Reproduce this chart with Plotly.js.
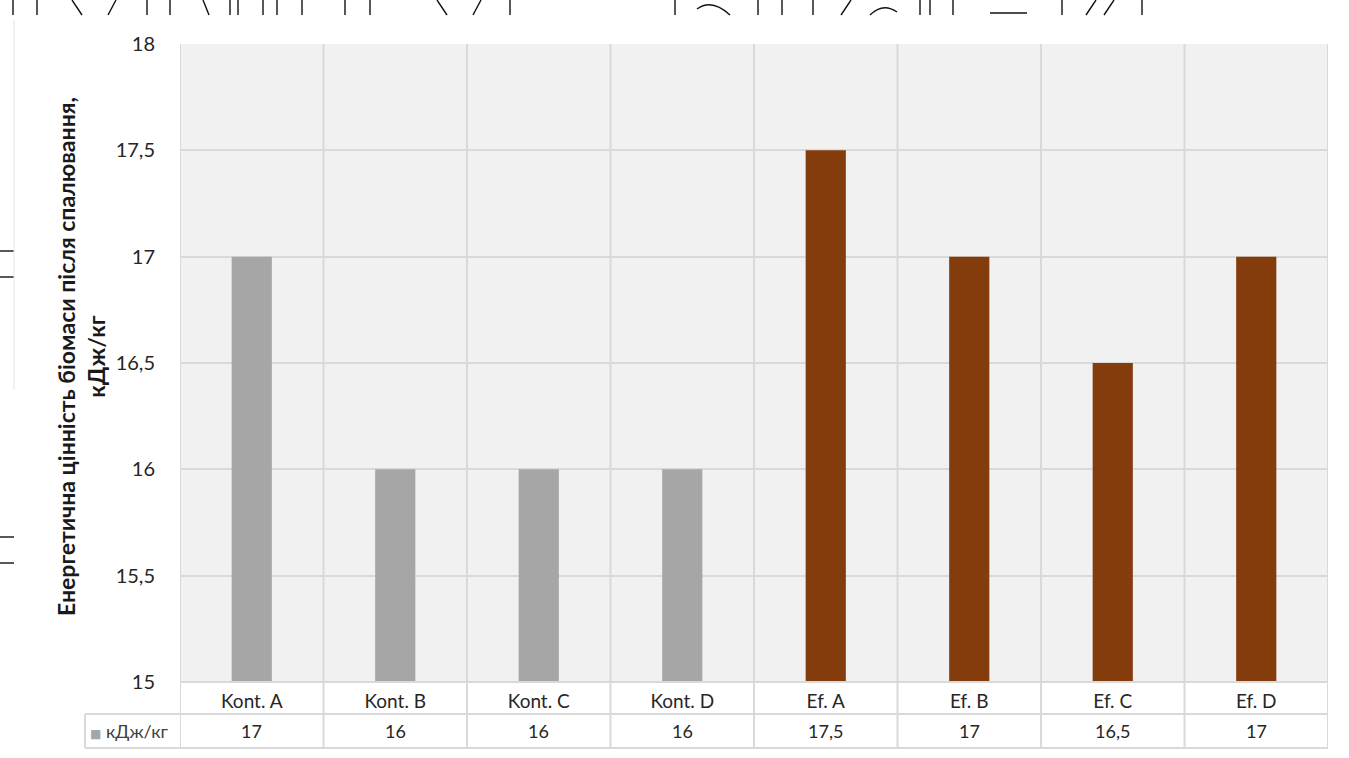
<!DOCTYPE html>
<html>
<head>
<meta charset="utf-8">
<script src="https://cdn.plot.ly/plotly-3.0.1.min.js"></script>
<style>
  html, body { margin: 0; padding: 0; background: #ffffff; }
  #chart { width: 1349px; height: 758px; }
</style>
</head>
<body>
<div id="chart"></div>
<script>
// Energy value of biomass after combustion, per variant
const categories = ['Kont. A', 'Kont. B', 'Kont. C', 'Kont. D', 'Ef. A', 'Ef. B', 'Ef. C', 'Ef. D'];
const energyValues = [17, 16, 16, 16, 17.5, 17, 16.5, 17];
const seriesName = 'кДж/кг';
const yTickValues = [15, 15.5, 16, 16.5, 17, 17.5, 18];
const yTickLabels = ['15', '15,5', '16', '16,5', '17', '17,5', '18'];
const yTitle = 'Енергетична цінність біомаси після спалювання,<br>кДж/кг';

const W = 1349, H = 758;
const M = { l: 180, r: 21, t: 44, b: 76 };
const plotW = W - M.l - M.r;
const plotH = H - M.t - M.b;

// pixel -> paper helpers for decorations placed outside the plot area
const px = v => (v - M.l) / plotW;
const py = v => (H - M.b - v) / plotH;

const GRAY = '#a6a6a6';
const BROWN = '#843c0c';
const GRID = '#d9d9d9';
const FONT = 'Lato, "Noto Sans", "DejaVu Sans", sans-serif';
const TEXT = '#262626';

const barColors = categories.map(c => c.startsWith('Ef.') ? BROWN : GRAY);
const fmt = v => String(v).replace('.', ',');

const trace = {
  type: 'bar',
  x: categories,
  y: energyValues,
  name: seriesName,
  width: 0.28,
  marker: { color: barColors, line: { width: 0 } },
  hoverinfo: 'x+y'
};

const shapes = [];
const rowMid = 714;
const rowBot = 748;
const legendLeft = 85;

// category separators through plot and data table
for (let i = 0; i <= categories.length; i++) {
  shapes.push({
    type: 'line', xref: 'x', yref: 'paper',
    x0: i - 0.5, x1: i - 0.5, y0: py(rowBot), y1: 1,
    line: { color: GRID, width: 2 }, layer: 'below'
  });
}
// table horizontal rules
shapes.push({ type: 'line', xref: 'paper', yref: 'paper', x0: 0, x1: 1, y0: 0, y1: 0,
  line: { color: GRID, width: 2 } });
shapes.push({ type: 'line', xref: 'paper', yref: 'paper', x0: px(legendLeft), x1: 1, y0: py(rowMid), y1: py(rowMid),
  line: { color: GRID, width: 2 } });
shapes.push({ type: 'line', xref: 'paper', yref: 'paper', x0: px(legendLeft), x1: 1, y0: py(rowBot), y1: py(rowBot),
  line: { color: GRID, width: 2 } });
shapes.push({ type: 'line', xref: 'paper', yref: 'paper', x0: px(legendLeft), x1: px(legendLeft), y0: py(rowMid), y1: py(rowBot),
  line: { color: GRID, width: 2 } });

// remnants of large lettering cropped at the page top and left edge
const strokes = [
  [13, 0, 13, 15], [37, 0, 37, 15], [72, 0, 82, 15], [116, 0, 108, 15],
  [147, 0, 147, 15], [170, 0, 170, 15], [203, 0, 209, 15], [230, 0, 230, 15],
  [238, 0, 238, 15], [263, 0, 263, 15], [277, 0, 277, 15], [302, 0, 302, 15],
  [345, 0, 345, 15], [370, 0, 370, 15], [437, 0, 447, 15], [481, 0, 473, 15],
  [510, 0, 510, 15], [675, 0, 675, 15], [758, 0, 758, 15], [782, 0, 782, 15],
  [813, 0, 813, 15], [851, 0, 841, 15], [920, 0, 920, 15], [930, 0, 930, 15],
  [953, 0, 953, 15], [990, 13, 1027, 13], [1062, 0, 1062, 15], [1096, 0, 1086, 15],
  [1114, 0, 1104, 15], [1142, 0, 1142, 15],
  [0, 251, 14, 251], [0, 277, 14, 277], [0, 537, 14, 537], [0, 563, 14, 563]
];
strokes.forEach(s => shapes.push({
  type: 'line', xref: 'paper', yref: 'paper',
  x0: px(s[0]), y0: py(s[1]), x1: px(s[2]), y1: py(s[3]),
  line: { color: '#111111', width: 1.4 }
}));
shapes.push({ type: 'path', xref: 'paper', yref: 'paper',
  path: `M ${px(697)} ${py(9)} Q ${px(712)} ${py(-2)} ${px(730)} ${py(15)}`,
  line: { color: '#111111', width: 1.4 } });
shapes.push({ type: 'path', xref: 'paper', yref: 'paper',
  path: `M ${px(870)} ${py(15)} Q ${px(883)} ${py(2)} ${px(897)} ${py(12)}`,
  line: { color: '#111111', width: 1.4 } });
shapes.push({ type: 'line', xref: 'paper', yref: 'paper',
  x0: px(14), x1: px(14), y0: py(20), y1: py(390),
  line: { color: '#e4e4e4', width: 1 } });

const annotations = [];
// data table values row
energyValues.forEach((v, i) => annotations.push({
  xref: 'x', yref: 'paper', x: categories[i], y: py((rowMid + rowBot) / 2),
  text: fmt(v), showarrow: false, xanchor: 'center', yanchor: 'middle',
  font: { family: FONT, size: 18, color: TEXT }
}));
// legend key of the data table
annotations.push({
  xref: 'paper', yref: 'paper', x: px(88), y: py((rowMid + rowBot) / 2),
  text: `<span style="color:${GRAY};font-size:12px">■</span> ${seriesName}`,
  showarrow: false, xanchor: 'left', yanchor: 'middle',
  font: { family: FONT, size: 18, color: '#404040' }
});
// value axis title
annotations.push({
  xref: 'paper', yref: 'paper', x: px(81), y: py(357),
  text: '<b>' + yTitle + '</b>', textangle: -90, showarrow: false,
  xanchor: 'center', yanchor: 'middle', align: 'center',
  font: { family: FONT, size: 23, color: '#1a1a1a' }
});

const layout = {
  width: W, height: H,
  margin: M,
  paper_bgcolor: '#ffffff',
  plot_bgcolor: '#f1f1f1',
  separators: ', ',
  showlegend: false,
  font: { family: FONT, color: TEXT },
  xaxis: {
    type: 'category',
    range: [-0.5, categories.length - 0.5],
    showgrid: false, zeroline: false, showline: false,
    ticks: 'outside', ticklen: 2, tickcolor: 'rgba(0,0,0,0)',
    tickfont: { family: FONT, size: 19, color: TEXT },
    fixedrange: true
  },
  yaxis: {
    range: [15, 18],
    tickvals: yTickValues, ticktext: yTickLabels,
    showgrid: true, gridcolor: GRID, gridwidth: 2,
    zeroline: false, showline: false,
    ticks: 'outside', ticklen: 20, tickcolor: 'rgba(0,0,0,0)',
    tickfont: { family: FONT, size: 20, color: TEXT },
    fixedrange: true
  },
  shapes: shapes,
  annotations: annotations
};

Plotly.newPlot('chart', [trace], layout, { displayModeBar: false, staticPlot: true });
</script>
</body>
</html>
